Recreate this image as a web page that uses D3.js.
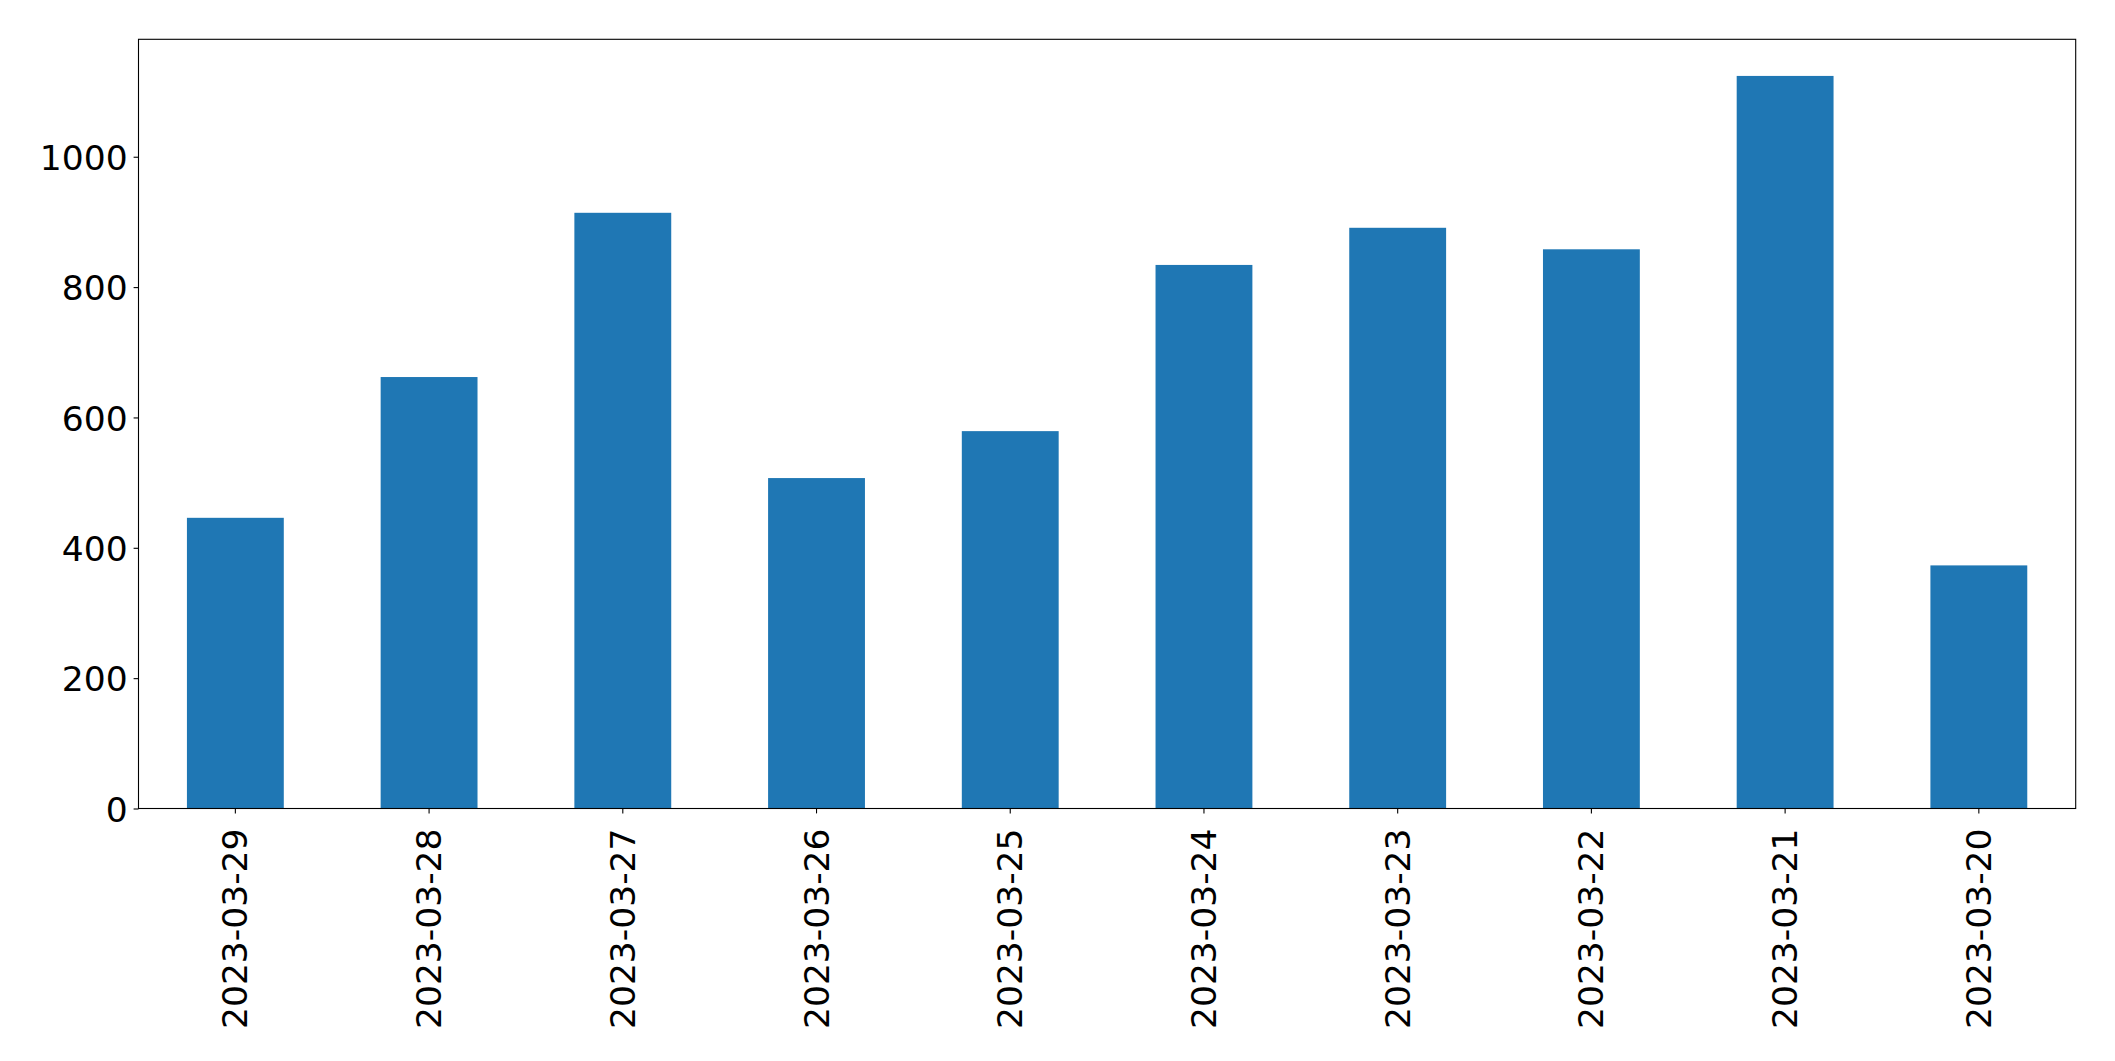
<!DOCTYPE html>
<html>
<head>
<meta charset="utf-8">
<script src="https://cdn.jsdelivr.net/npm/d3@7"></script>
<style>
  body { margin: 0; background: #fff; }
  text { font-family: "DejaVu Sans", sans-serif; }
</style>
</head>
<body>
<div id="chart"></div>
<script>
var dates = ["2023-03-29", "2023-03-28", "2023-03-27", "2023-03-26", "2023-03-25",
             "2023-03-24", "2023-03-23", "2023-03-22", "2023-03-21", "2023-03-20"];
var counts = [446, 662, 914, 507, 579, 834, 891, 858, 1124, 373];
var yTicks = [0, 200, 400, 600, 800, 1000];

var width = 2115,
    height = 1061;

// plot box (don't call these top/left: window.top is read-only)
var plotLeft = 138.5, plotRight = 2075.7, plotTop = 39.3, plotBottom = 808.5;

var svg = d3.select("#chart").append("svg")
    .attr("width", width)
    .attr("height", height);

var x = d3.scaleBand()
    .domain(dates)
    .range([plotLeft, plotRight])
    .paddingInner(0.5)
    .paddingOuter(0.25);

var y = d3.scaleLinear()
    .domain([0, d3.max(counts) * 1.05])
    .range([plotBottom, plotTop]);

svg.append("g")
  .selectAll("rect")
  .data(dates)
  .enter().append("rect")
    .attr("x", function(d) { return x(d); })
    .attr("width", x.bandwidth())
    .attr("y", function(d, i) { return y(counts[i]); })
    .attr("height", function(d, i) { return plotBottom - y(counts[i]); })
    .style("fill", "#1f77b4");

// y axis
var yAxis = svg.append("g")
    .attr("transform", "translate(" + plotLeft + ",0)")
    .call(d3.axisLeft(y).tickValues(yTicks).tickSize(4.9).tickPadding(6).tickFormat(d3.format("d")));
yAxis.select(".domain").remove();
yAxis.selectAll("line").style("stroke", "#000").style("stroke-width", 1.1);
yAxis.selectAll("text").style("font-size", "34.5px").style("fill", "#000")
    .style("font-family", "'DejaVu Sans', sans-serif")
    .attr("dy", "0.37em");

// x axis
var xAxis = svg.append("g")
    .attr("transform", "translate(0," + plotBottom + ")")
    .call(d3.axisBottom(x).tickSize(4.9).tickPadding(4.9));
xAxis.select(".domain").remove();
xAxis.selectAll("line").style("stroke", "#000").style("stroke-width", 1.1);
xAxis.selectAll("text")
    .style("font-size", "34.5px").style("fill", "#000")
    .style("font-family", "'DejaVu Sans', sans-serif")
    .attr("text-anchor", "end")
    .attr("y", 0)
    .attr("dy", "0.35em")
    .attr("transform", "translate(0,20) rotate(-90)");

// frame
svg.append("rect")
    .attr("x", plotLeft)
    .attr("y", plotTop)
    .attr("width", plotRight - plotLeft)
    .attr("height", plotBottom - plotTop)
    .style("fill", "none")
    .style("stroke", "#000")
    .style("stroke-width", 1.1);
</script>
</body>
</html>
